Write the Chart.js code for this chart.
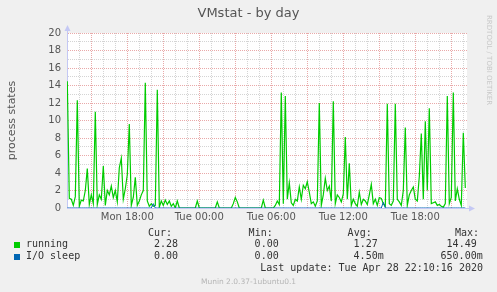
<!DOCTYPE html>
<html>
<head>
<meta charset="utf-8">
<title>VMstat - by day</title>
<script src="https://cdn.jsdelivr.net/npm/chart.js@4.4.1/dist/chart.umd.min.js"></script>
<style>
  html, body { margin: 0; padding: 0; background: #f0f0f0; }
  #wrap { position: relative; width: 497px; height: 292px; overflow: hidden; font-family: "DejaVu Sans", sans-serif; }
  #chart { position: absolute; left: 0; top: 0; }
  .title { position: absolute; left: 0; width: 497px; top: 5px; text-align: center; font-size: 13px; line-height: 16px; color: #555; }
  .vert { position: absolute; left: 485px; top: 15px; writing-mode: vertical-rl; font-size: 7px; line-height: 8px; color: #c8c8c8; white-space: nowrap; }
  .mono { position: absolute; font-family: "DejaVu Sans Mono", monospace; font-size: 10px; line-height: 12px; color: #333; white-space: pre; }
  .sw { position: absolute; width: 6px; height: 6px; }
  .foot { position: absolute; left: 0; width: 497px; top: 277px; text-align: center; font-size: 7.5px; line-height: 10px; color: #b5b5b5; }
</style>
</head>
<body>
<div id="wrap">
  <canvas id="chart" width="497" height="292"></canvas>
  <div class="title">VMstat - by day</div>
  <div class="vert">RRDTOOL / TOBI OETIKER</div>
  <div id="legend"></div>
  <div class="mono" style="right:14px;top:262px">Last update: Tue Apr 28 22:10:16 2020</div>
  <div class="foot">Munin 2.0.37-1ubuntu0.1</div>
</div>
<script>
// 5-minute samples averaged to 10 minutes, Mon 13:00 .. Tue 22:10
const running = [
  14.49, 1.1, 1.0, 0.3, 1.3, 12.3, 0.2, 0.9, 0.8, 2.0,
  4.5, 0.4, 1.5, 0.5, 11.0, 0.4, 1.5, 1.0, 4.8, 0.3,
  2.0, 1.5, 2.5, 1.2, 2.0, 0.7, 4.6, 5.7, 1.0, 2.2,
  3.8, 9.6, 0.3, 1.2, 3.5, 0.3, 0.8, 1.5, 2.0, 14.3,
  0.8, 0.2, 0.5, 0.2, 0.3, 13.5, 0.1, 0.8, 0.3, 0.9,
  0.4, 0.8, 0.2, 0.5, 0, 0.8, 0, 0, 0, 0,
  0, 0, 0, 0, 0, 0.8, 0, 0, 0, 0,
  0, 0, 0, 0, 0, 0.7, 0, 0, 0, 0,
  0, 0, 0, 0.5, 1.2, 0.7, 0, 0, 0, 0,
  0, 0, 0, 0, 0, 0, 0, 0, 0.9, 0,
  0, 0, 0, 0, 0.3, 0.8, 0.4, 13.2, 0.5, 12.8,
  1.0, 2.9, 0.6, 0.3, 1.0, 0.8, 2.4, 1.0, 2.6, 2.2,
  3.0, 1.8, 0.5, 0.7, 0.2, 0.8, 12.0, 0.3, 1.5, 3.4,
  2.0, 2.5, 0.8, 12.2, 0.5, 1.5, 1.2, 0.7, 1.6, 8.1,
  1.0, 5.1, 0.3, 1.0, 0.5, 0.2, 1.8, 0.4, 1.0, 0.8,
  0.4, 1.5, 2.7, 0.5, 1.0, 0.3, 1.2, 1.1, 0.5, 0.2,
  11.9, 0.5, 0.3, 0.8, 11.9, 1.0, 0.7, 0.3, 2.0, 9.2,
  0.3, 1.5, 2.0, 2.4, 1.0, 0.8, 3.6, 8.5, 1.0, 9.9,
  2.0, 11.4, 0.5, 0.6, 0.7, 0.3, 0.4, 0.2, 0.1, 0.5,
  12.8, 0.5, 1.2, 13.2, 0.8, 2.2, 1.0, 0.3, 8.6, 2.28
];
const ioSleep = [
  0, 0, 0, 0, 0, 0, 0, 0, 0, 0,
  0, 0, 0, 0, 0, 0, 0, 0, 0, 0,
  0, 0, 0, 0, 0, 0, 0, 0, 0, 0,
  0, 0, 0, 0, 0, 0, 0, 0, 0, 0,
  0, 0, 0, 0.5, 0, 0, 0, 0, 0, 0,
  0, 0, 0, 0, 0, 0, 0, 0, 0, 0,
  0, 0, 0, 0, 0, 0, 0, 0, 0, 0,
  0, 0, 0, 0, 0, 0, 0, 0, 0, 0,
  0, 0, 0, 0, 0, 0, 0, 0, 0, 0,
  0, 0, 0, 0, 0, 0, 0, 0, 0, 0,
  0, 0, 0, 0, 0, 0, 0, 0, 0, 0,
  0, 0, 0, 0, 0, 0, 0, 0, 0, 0,
  0, 0, 0, 0, 0, 0, 0, 0, 0, 0,
  0, 0, 0, 0, 0, 0, 0, 0, 0, 0,
  0, 0, 0, 0, 0, 0, 0, 0, 0, 0,
  0, 0, 0, 0, 0, 0, 0, 0, 0.65, 0,
  0, 0, 0, 0, 0, 0, 0, 0, 0, 0,
  0, 0, 0, 0, 0, 0, 0, 0, 0, 0,
  0, 0, 0, 0, 0, 0, 0, 0, 0, 0,
  0, 0, 0, 0, 0, 0, 0, 0, 0, 0
];

// x tick labels and their sample index (10 min per sample)
const xTickLabels = ['Mon 18:00', 'Tue 00:00', 'Tue 06:00', 'Tue 12:00', 'Tue 18:00'];
const xTickPos = [30, 66, 102, 138, 174];

// legend table
const seriesNames = ['running', 'I/O sleep'];
const seriesColors = ['#00cc00', '#0066b3'];
const curValues = ['2.28', '0.00'];
const minValues = ['0.00', '0.00'];
const avgValues = ['1.27', '4.50m'];
const maxValues = ['14.49', '650.00m'];

const gridMinor = '#d4d4d4';
const gridMajor = '#e9a9a9';
const axisColor = '#c4c8f4';

function buildLegend() {
  const el = document.getElementById('legend');
  let html = '';
  const heads = [['Cur:', 172], ['Min:', 272.7], ['Avg:', 371.7], ['Max:', 479]];
  heads.forEach(([t, r]) => {
    html += `<div class="mono" style="right:${497 - r}px;top:227px">${t}</div>`;
  });
  const tops = [238, 250];
  seriesNames.forEach((name, k) => {
    const top = tops[k];
    html += `<div class="sw" style="left:14px;top:${top + 4}px;background:${seriesColors[k]}"></div>`;
    html += `<div class="mono" style="left:26px;top:${top}px">${name}</div>`;
    const cols = [[curValues[k], 178], [minValues[k], 278.7], [avgValues[k], 377.7], [maxValues[k], 476.7]];
    cols.forEach(([v, r]) => {
      const edge = v.endsWith('m') ? r + 6 : r;
      html += `<div class="mono" style="right:${(497 - edge).toFixed(1)}px;top:${top}px">${v}</div>`;
    });
  });
  el.innerHTML = html;
}

const hourTicks = [];
for (let h = 6; h < 200; h += 6) hourTicks.push(h);

const muninFrame = {
  id: 'muninFrame',
  beforeDraw(chart) {
    const { ctx, chartArea: a } = chart;
    ctx.save();
    ctx.fillStyle = '#ffffff';
    ctx.fillRect(a.left, a.top, a.right - a.left, a.bottom - a.top);
    ctx.restore();
  },
  afterDraw(chart) {
    const { ctx, chartArea: a } = chart;
    ctx.save();
    ctx.strokeStyle = axisColor;
    ctx.lineWidth = 1;
    ctx.beginPath();
    ctx.moveTo(a.left + 0.5, a.top);
    ctx.lineTo(a.left + 0.5, a.top - 4);
    ctx.moveTo(a.right, a.bottom + 0.5);
    ctx.lineTo(a.right + 3, a.bottom + 0.5);
    ctx.stroke();
    ctx.fillStyle = axisColor;
    ctx.beginPath();
    ctx.moveTo(a.left - 2.5, a.top - 2);
    ctx.lineTo(a.left + 3.5, a.top - 2);
    ctx.lineTo(a.left + 0.5, a.top - 8);
    ctx.closePath();
    ctx.fill();
    ctx.beginPath();
    ctx.moveTo(a.right + 2, a.bottom - 2.5);
    ctx.lineTo(a.right + 2, a.bottom + 3.5);
    ctx.lineTo(a.right + 8, a.bottom + 0.5);
    ctx.closePath();
    ctx.fill();
    ctx.restore();
  }
};

Chart.defaults.font.family = 'DejaVu Sans';

buildLegend();

new Chart(document.getElementById('chart'), {
  type: 'line',
  data: {
    datasets: [
      {
        label: seriesNames[0],
        data: running.map((v, i) => ({ x: i, y: v })),
        borderColor: seriesColors[0],
        borderWidth: 1.2,
        pointRadius: 0,
        tension: 0,
        fill: false,
        order: 2
      },
      {
        label: seriesNames[1],
        data: ioSleep.map((v, i) => ({ x: i, y: v })),
        borderColor: seriesColors[1],
        borderWidth: 1,
        pointRadius: 0,
        tension: 0,
        fill: false,
        order: 1
      }
    ]
  },
  options: {
    responsive: false,
    animation: false,
    devicePixelRatio: 1,
    layout: { padding: { left: 0, right: 30, top: 33, bottom: 68 } },
    plugins: { legend: { display: false }, tooltip: { enabled: false } },
    scales: {
      x: {
        type: 'linear',
        min: -0.15,
        max: 199.85,
        afterBuildTicks: s => { s.ticks = hourTicks.map(v => ({ value: v })); },
        afterFit: s => { s.height = 16; },
        grid: {
          drawTicks: false,
          lineWidth: 1,
          color: c => (c.tick && (c.tick.value - 12) % 18 === 0) ? gridMajor : gridMinor
        },
        border: { color: axisColor, width: 1, dash: [1, 1] },
        ticks: {
          autoSkip: false,
          maxRotation: 0,
          padding: 3,
          color: '#555',
          font: { size: 10 },
          callback: v => {
            const k = xTickPos.indexOf(v);
            return k >= 0 ? xTickLabels[k] : '';
          }
        }
      },
      y: {
        min: 0,
        max: 20,
        afterFit: s => { s.width = 67; },
        grid: {
          drawTicks: false,
          lineWidth: 1,
          color: c => {
            if (!c.tick || c.tick.value === 0) return 'rgba(0,0,0,0)';
            return c.tick.value % 2 === 0 ? gridMajor : gridMinor;
          }
        },
        border: { color: axisColor, width: 1, dash: [1, 1] },
        ticks: {
          stepSize: 1,
          autoSkip: false,
          padding: 6,
          color: '#555',
          font: { size: 10 },
          callback: v => (v % 2 === 0 ? v : '')
        },
        title: {
          display: true,
          text: 'process states',
          color: '#555',
          font: { size: 11 },
          padding: { top: 6, bottom: 0 }
        }
      }
    }
  },
  plugins: [muninFrame]
});
</script>
</body>
</html>
